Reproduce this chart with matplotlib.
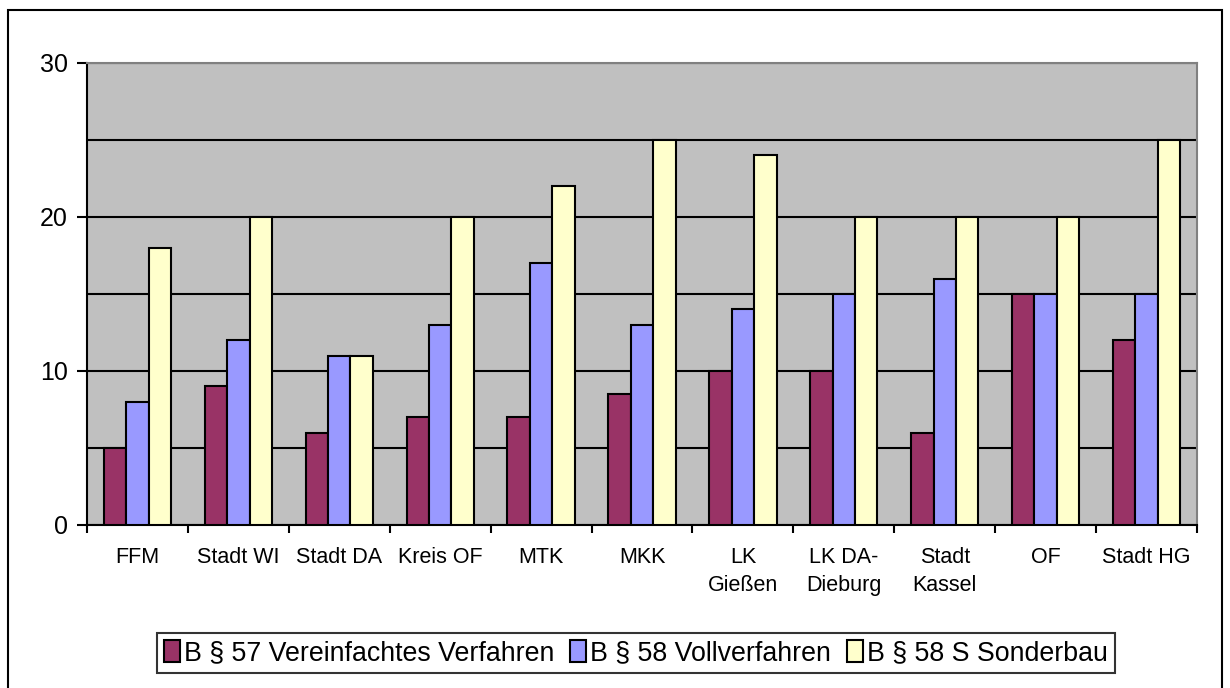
import matplotlib
matplotlib.use('Agg')
import matplotlib.pyplot as plt
from matplotlib.patches import Rectangle
from matplotlib.ticker import MultipleLocator
import numpy as np

plt.rcParams['font.family'] = ['Liberation Sans', 'DejaVu Sans']

# Daten
categories = ['FFM', 'Stadt WI', 'Stadt DA', 'Kreis OF', 'MTK', 'MKK',
              'LK\nGießen', 'LK DA-\nDieburg', 'Stadt\nKassel', 'OF', 'Stadt HG']
vereinfacht = [5, 9, 6, 7, 7, 8.5, 10, 10, 6, 15, 12]
vollverfahren = [8, 12, 11, 13, 17, 13, 14, 15, 16, 15, 15]
sonderbau = [18, 20, 11, 20, 22, 25, 24, 20, 20, 20, 25]
series_names = ['B § 57 Vereinfachtes Verfahren', 'B § 58 Vollverfahren', 'B § 58 S Sonderbau']
colors = ['#993366', '#9999FF', '#FFFFCC']

fig = plt.figure(figsize=(12.3, 6.88), dpi=100)
ax = fig.add_axes([87 / 1230, 1 - 525 / 688, (1197 - 87) / 1230, (525 - 63) / 688])
ax.set_facecolor('#C0C0C0')

x = np.arange(len(categories))
w = 1 / 4.5
for i, (vals, name, col) in enumerate(zip([vereinfacht, vollverfahren, sonderbau], series_names, colors)):
    ax.bar(x + (i - 1) * w, vals, width=w, color=col, edgecolor='black',
           linewidth=1.5, label=name, zorder=3)

ax.set_xlim(-0.5, len(categories) - 0.5)
ax.set_ylim(0, 30)

# y-Achse
ax.yaxis.set_major_locator(MultipleLocator(10))
ax.yaxis.set_minor_locator(MultipleLocator(5))
ax.grid(axis='y', which='both', color='black', linewidth=1.5, zorder=1)
ax.tick_params(axis='y', which='major', length=7, width=1.5, labelsize=18, pad=7)
ax.tick_params(axis='y', which='minor', length=0)

# x-Achse: Striche zwischen Gruppen, Beschriftung in der Mitte
ax.set_xticks(np.arange(len(categories) + 1) - 0.5)
ax.set_xticklabels([])
ax.set_xticks(x, minor=True)
ax.set_xticklabels(categories, minor=True, fontsize=15.5, linespacing=1.45, va='top')
ax.tick_params(axis='x', which='major', length=6, width=1.5)
ax.tick_params(axis='x', which='minor', length=0, pad=16)

ax.spines['left'].set_linewidth(1.5)
ax.spines['bottom'].set_linewidth(1.5)
ax.spines['top'].set_color('#808080')
ax.spines['right'].set_color('#808080')
ax.spines['top'].set_linewidth(1.5)
ax.spines['right'].set_linewidth(1.5)

leg = fig.legend(loc='center', bbox_to_anchor=(636 / 1230, 1 - 653 / 688), ncol=3,
                 fontsize=19.3, frameon=True, fancybox=False, edgecolor='black',
                 handlelength=0.6, handleheight=0.9, handletextpad=0.15,
                 columnspacing=0.6, borderpad=0.25, borderaxespad=0)
leg.get_frame().set_linewidth(1.5)

# Rahmen um das ganze Diagramm
fig.patches.append(Rectangle((8 / 1230, -0.01), (1222 - 8) / 1230, 1 - 10 / 688 + 0.01,
                             transform=fig.transFigure, fill=False,
                             edgecolor='black', linewidth=1.5))

fig.savefig('out.png', dpi=100)
